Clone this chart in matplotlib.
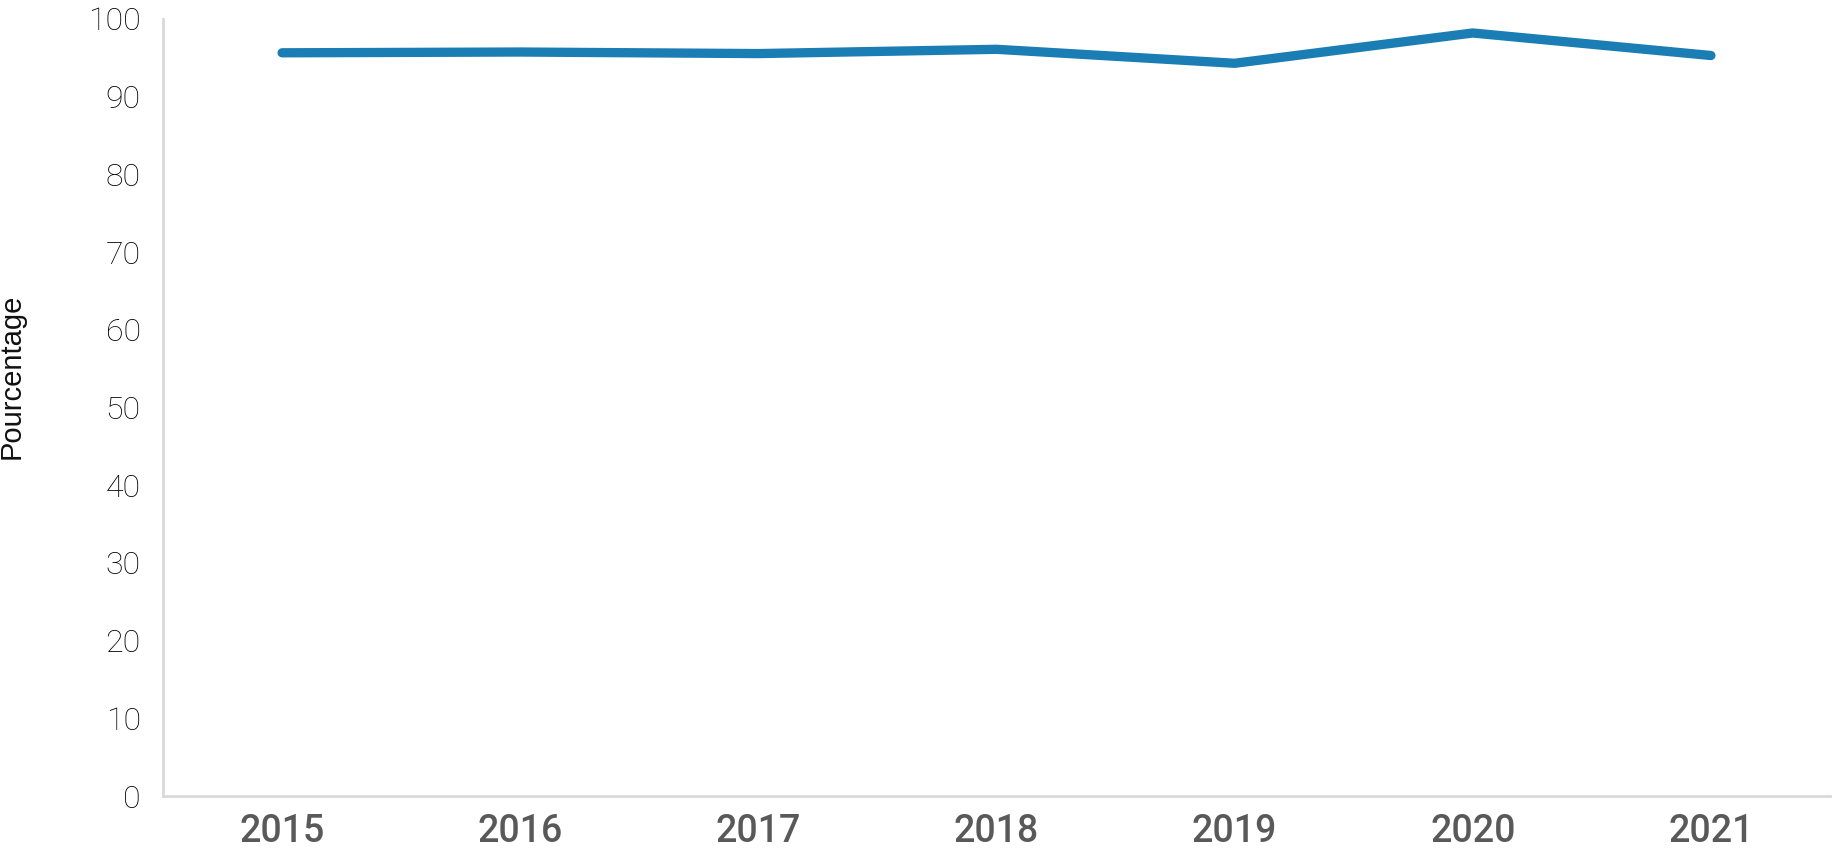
import matplotlib
matplotlib.use("Agg")
import matplotlib.pyplot as plt

years = ["2015", "2016", "2017", "2018", "2019", "2020", "2021"]
values = [95.65, 95.75, 95.55, 96.1, 94.3, 98.2, 95.3]
yticks = [0, 10, 20, 30, 40, 50, 60, 70, 80, 90, 100]

fig = plt.figure(figsize=(18.33, 8.58), dpi=100)
ax = fig.add_axes([163/1833, 1-796/858, (1830-163)/1833, (796-19)/858])

x = list(range(len(years)))
ax.plot(x, values, color="#1a7db3", linewidth=6.7, solid_capstyle="round", solid_joinstyle="miter")

ax.set_xlim(-0.5, len(years) - 0.5)
ax.set_ylim(0, 100)
ax.set_yticks(yticks)
ax.set_yticklabels([str(v) for v in yticks], fontfamily="Roboto", fontweight="light", fontsize=23, color="#000000")
ax.set_xticks(x)
ax.set_xticklabels(years, fontfamily="Roboto", fontweight="medium", fontsize=27, color="#595959")
ax.tick_params(axis="both", length=0)
ax.tick_params(axis="y", pad=16)
ax.tick_params(axis="x", pad=12)

for s in ["top", "right"]:
    ax.spines[s].set_visible(False)
for s in ["left", "bottom"]:
    ax.spines[s].set_color("#d9d9d9")
    ax.spines[s].set_linewidth(2)

ax.set_ylabel("Pourcentage", fontfamily="Liberation Sans", fontsize=21, color="#111111")
ax.yaxis.set_label_coords((26 - 163) / 1667, (796 - 376) / 777)

fig.savefig("out.png", dpi=100, facecolor="white")
